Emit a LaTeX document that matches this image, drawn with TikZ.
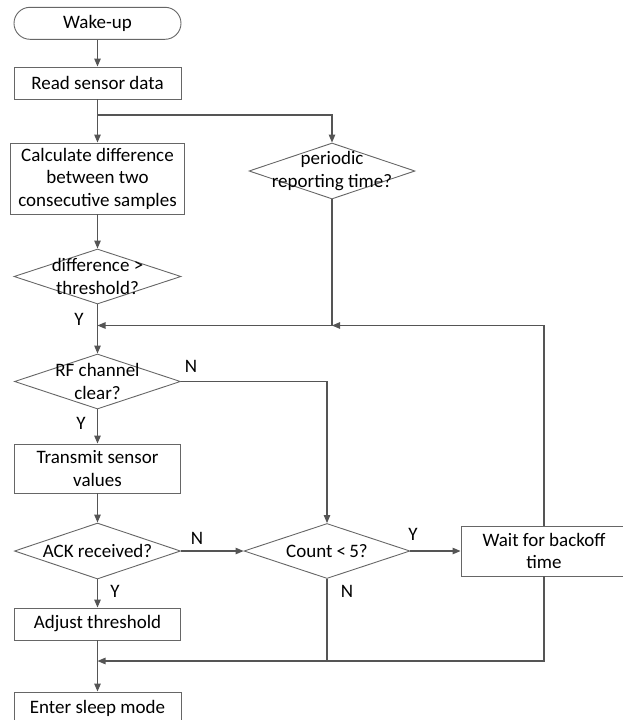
\documentclass[tikz,border=0pt]{standalone}
\usepackage{fontspec}
\setmainfont{Carlito}
\usetikzlibrary{arrows.meta,shapes.geometric}
\definecolor{linegray}{HTML}{555555}
\definecolor{boxgray}{HTML}{666666}
\tikzset{
  every node/.style={font=\fontsize{19}{22.5}\selectfont, text=black},
  procbox/.style={draw=boxgray, line width=0.9pt, rectangle, inner sep=0pt, align=center, minimum width=166pt},
  termbox/.style={draw=boxgray, line width=0.9pt, rectangle, rounded corners=16pt, inner sep=0pt, minimum width=167pt, minimum height=32pt},
  decision/.style={draw=boxgray, line width=0.9pt, diamond, inner sep=0pt, minimum width=166pt, minimum height=56pt},
  dtext/.style={align=center, inner sep=0pt},
  conn/.style={draw=linegray, line width=1.1pt, -{Triangle[length=8pt,width=6.5pt]}},
  plain/.style={draw=linegray, line width=1.1pt},
  lbl/.style={inner sep=0pt}
}
\begin{document}
\begin{tikzpicture}[x=1pt,y=-1pt]
\useasboundingbox (0,0) rectangle (622,720);
% nodes
\node[termbox] (wake) at (97.5,23.3) {Wake-up};
\node[procbox, minimum height=32pt, minimum width=167pt] (read) at (97.5,83) {Read sensor data};
\node[procbox, minimum height=71pt, minimum width=174pt] (calc) at (97.5,178.5) {Calculate difference\\between two\\consecutive samples};
\node[decision, minimum height=55pt, minimum width=167pt] (diff) at (97.5,276.5) {};
\node[dtext] at (diff) {difference \textgreater\\threshold?};
\node[decision] (peri) at (332,171) {};
\node[dtext] at (peri) {periodic\\reporting time?};
\node[decision, minimum height=55pt] (rf) at (97.5,381.5) {};
\node[dtext] at (rf) {RF channel\\clear?};
\node[procbox, minimum height=49pt] (trans) at (97.5,468.5) {Transmit sensor\\values};
\node[decision] (ack) at (97.5,551) {};
\node[dtext] at (ack) {ACK received?};
\node[decision, minimum height=55pt] (count) at (327,551) {};
\node[dtext] at (count) {Count \textless\,5?};
\node[procbox, minimum height=50pt] (wait) at (544,551) {Wait for backoff\\time};
\node[procbox, minimum height=32pt] (adjust) at (97.5,624) {Adjust threshold};
\node[procbox, minimum height=32pt, minimum width=167pt] (sleep) at (97.5,708) {Enter sleep mode};
% junctions
\coordinate (b1) at (97.5,115);
\coordinate (m1) at (97.5,325.5);
\coordinate (m2) at (97.5,661);
% connectors
\draw[conn] (wake) -- (read);
\draw[conn] (read) -- (calc);
\draw[conn] (b1) -| (peri.north);
\draw[conn] (calc) -- (diff);
\draw[conn] (diff) -- (rf);
\draw[conn] (peri.south) |- (m1);
\draw[conn] (wait.north) |- (peri.south |- m1);
\draw[conn] (rf.east) -| (count.north);
\draw[conn] (rf) -- (trans);
\draw[conn] (trans) -- (ack);
\draw[conn] (ack.east) -- (count.west);
\draw[conn] (count.east) -- (wait.west);
\draw[conn] (ack) -- (adjust);
\draw[plain] (count.south) -- (count.south |- m2);
\draw[conn] (wait.south) |- (m2);
\draw[conn] (adjust) -- (sleep);
% labels
\node[lbl] (ly1) at (79,319) {Y};
\node[lbl] (ln1) at (191,366) {N};
\node[lbl] (ly2) at (81,423) {Y};
\node[lbl] (ln2) at (197,538) {N};
\node[lbl] (ly3) at (413,534) {Y};
\node[lbl] (ly4) at (115,591) {Y};
\node[lbl] (ln3) at (347,591) {N};
\end{tikzpicture}
\end{document}
